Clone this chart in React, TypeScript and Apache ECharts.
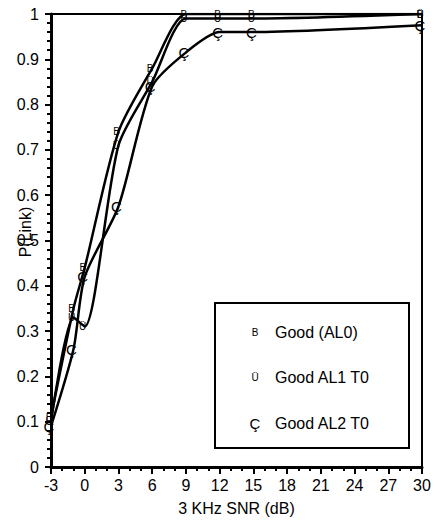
import React, { useEffect, useRef } from "react";
import * as echarts from "echarts";

const snr = [-3, -1, 0, 3, 6, 9, 12, 15, 30];
const goodAL0 = [0.11, 0.35, 0.44, 0.74, 0.88, 1.0, 1.0, 1.0, 1.0];
const goodAL1 = [0.1, 0.33, 0.31, 0.71, 0.85, 0.99, 0.99, 0.99, 1.0];
const goodAL2 = [0.09, 0.26, 0.42, 0.575, 0.84, 0.915, 0.96, 0.96, 0.975];

const seriesNames = ["Good (AL0)", "Good AL1 T0", "Good AL2 T0"];
const seriesGlyphs = ["B", "Ü", "Ç"];
const glyphSizes = [10, 10, 15];

const xAxisTitle = "3 KHz SNR (dB)";
const yAxisTitle = "P(Link)";

const FONT = "'Liberation Sans', Arial, sans-serif";

export default function App() {
  const ref = useRef<HTMLDivElement>(null);
  useEffect(() => {
    if (!ref.current) return;
    const chart = echarts.init(ref.current, undefined, { renderer: "svg" });
    const allData = [goodAL0, goodAL1, goodAL2];
    const series = allData.map((vals, i) => ({
      name: seriesNames[i],
      type: "line",
      data: snr.map((x, j) => [x, vals[j]]),
      smooth: 0.25,
      symbol: "circle",
      symbolSize: 0.1,
      showSymbol: true,
      itemStyle: { color: "transparent", borderWidth: 0 },
      lineStyle: { color: "#000", width: 2.5 },
      label: {
        show: true,
        position: "inside",
        offset: [-2, 0],
        formatter: seriesGlyphs[i],
        color: "#000",
        textBorderWidth: 0,
        fontFamily: FONT,
        fontSize: glyphSizes[i],
      },
      emphasis: { disabled: true },
      z: 3 + i,
    }));
    const legendTop = 303;
    const rowY = [332, 377, 423];
    const legendGraphics: any[] = [
      {
        type: "rect",
        shape: { x: 215, y: legendTop, width: 194, height: 145 },
        style: { fill: "#fff", stroke: "#000", lineWidth: 2 },
        z: 10,
      },
    ];
    seriesNames.forEach((name, i) => {
      legendGraphics.push({
        type: "text",
        x: 255,
        y: rowY[i],
        style: {
          text: seriesGlyphs[i],
          fontSize: glyphSizes[i],
          fontFamily: FONT,
          fill: "#000",
          textAlign: "center",
          textVerticalAlign: "middle",
        },
        z: 11,
      });
      legendGraphics.push({
        type: "text",
        x: 275,
        y: rowY[i],
        style: {
          text: name,
          fontSize: 16,
          fontFamily: FONT,
          fill: "#000",
          textAlign: "left",
          textVerticalAlign: "middle",
        },
        z: 11,
      });
    });
    legendGraphics.push({
      type: "text",
      x: 25,
      y: 232,
      rotation: Math.PI / 2,
      style: {
        text: yAxisTitle,
        fontSize: 16,
        fontFamily: FONT,
        fill: "#000",
        textAlign: "center",
        textVerticalAlign: "middle",
      },
      z: 11,
    });
    chart.setOption({
      animation: false,
      backgroundColor: "#fff",
      textStyle: { fontFamily: FONT },
      grid: {
        left: 51,
        right: 12,
        top: 14,
        bottom: 57,
        show: true,
        borderColor: "#000",
        borderWidth: 2,
        backgroundColor: "transparent",
      },
      xAxis: {
        type: "value",
        min: -3,
        max: 30,
        interval: 3,
        name: xAxisTitle,
        nameLocation: "middle",
        nameGap: 33,
        nameTextStyle: { fontSize: 16, color: "#000", fontFamily: FONT },
        axisLine: { show: true, onZero: false, lineStyle: { color: "#000", width: 3 } },
        axisTick: { show: true, length: 7, lineStyle: { color: "#000", width: 2 } },
        minorTick: { show: true, splitNumber: 3, length: 4, lineStyle: { color: "#000", width: 2 } },
        splitLine: { show: false },
        axisLabel: { fontSize: 16, color: "#000", margin: 10, fontFamily: FONT },
      },
      yAxis: {
        type: "value",
        min: 0,
        max: 1,
        interval: 0.1,
        axisLine: { show: true, onZero: false, lineStyle: { color: "#000", width: 3 } },
        axisTick: { show: true, length: 6, lineStyle: { color: "#000", width: 2 } },
        minorTick: { show: true, splitNumber: 5, length: 4, lineStyle: { color: "#000", width: 2 } },
        splitLine: { show: false },
        axisLabel: { fontSize: 16, color: "#000", margin: 12, fontFamily: FONT },
      },
      graphic: legendGraphics,
      series,
    });
    return () => chart.dispose();
  }, []);
  return (
    <div
      ref={ref}
      style={{ position: "fixed", left: 0, top: 0, width: 434, height: 524, background: "#fff" }}
    />
  );
}
